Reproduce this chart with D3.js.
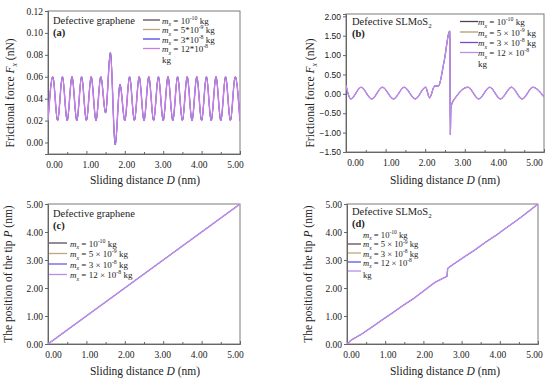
<!DOCTYPE html>
<html><head><meta charset="utf-8">
<script src="https://cdn.jsdelivr.net/npm/d3@7/dist/d3.min.js"></script>
<style>
body{margin:0;background:#fff;}
text{font-family:"Liberation Serif","DejaVu Serif",serif;fill:#222;}
</style></head>
<body><svg id="c" width="550" height="380"></svg>
<script>
// ---------- data ----------
const xTicks = [0, 1, 2, 3, 4, 5];
const xTickLabels = ["0.00","1.00","2.00","3.00","4.00","5.00"];
const yTicksA = [0, 0.02, 0.04, 0.06, 0.08, 0.10, 0.12];
const yTicksB = [-1.5, -1.0, -0.5, 0, 0.5, 1.0, 1.5, 2.0];
const yTicksCD = [0, 1, 2, 3, 4, 5];

// (a) frictional force, defective graphene (peaks/troughs read every 0.125 nm)
const dA = [0,0.125,0.25,0.375,0.5,0.625,0.75,0.875,1,1.125,1.25,1.375,1.5,1.625,1.75,1.875,2,2.125,2.25,2.375,2.5,2.625,2.75,2.875,3,3.125,3.25,3.375,3.5,3.625,3.75,3.875,4,4.125,4.25,4.375,4.5,4.625,4.75,4.875,5];
const fA = [0.02,0.06,0.02,0.06,0.02,0.06,0.02,0.06,0.02,0.06,0.02,0.06,0.027,0.082,-0.002,0.053,0.02,0.06,0.02,0.06,0.02,0.06,0.02,0.06,0.02,0.06,0.02,0.06,0.02,0.06,0.02,0.06,0.02,0.06,0.02,0.06,0.02,0.06,0.02,0.06,0.02];

// (b) frictional force, defective SLMoS2
const dB  = [0,0.12,0.38,0.65,0.92,1.2,1.47,1.75,2.01,2.11,2.24,2.33,2.48,2.62,2.635,2.65,2.8,3.08,3.35,3.63,3.9,4.18,4.45,4.72,5.0];
const fB  = [0.22,-0.13,0.17,-0.13,0.17,-0.13,0.17,-0.13,0.17,-0.1,0.2,0.2,0.85,1.62,-1.05,-0.32,-0.05,0.17,-0.13,0.17,-0.13,0.17,-0.13,0.17,-0.08];
const fB3 = [0.22,-0.13,0.17,-0.13,0.17,-0.13,0.17,-0.13,0.17,-0.1,0.2,0.2,0.85,1.62,-0.62,-0.35,-0.05,0.17,-0.13,0.17,-0.13,0.17,-0.13,0.17,-0.08];

// (c) tip position, defective graphene
const dC = [0, 5];
const pC = [0, 5];

// (d) tip position, defective SLMoS2
const dD = [0,0.12,0.38,0.65,0.92,1.2,1.47,1.75,2.01,2.3,2.62,2.635,2.66,2.8,3.08,3.35,3.63,3.9,4.18,4.45,4.72,5.0];
const pD = [0,0.15,0.35,0.6,0.86,1.12,1.38,1.63,1.9,2.2,2.42,2.7,2.73,2.86,3.12,3.36,3.64,3.88,4.16,4.42,4.7,5.0];

const massLabelsA = [["10","-10"],["5*10","-9"],["3*10","-8"],["12*10","-8"]];
const massLabelsB = [["10","-10"],["5 × 10","-9"],["3 × 10","-8"],["12 × 10","-8"]];

const colorsA = ["#5e4b5c","#bfa67c","#4747e6","#c67fe8"];
const colorsB = ["#4e4250","#b39c6c","#7c44d6","#b98de9"];
const colorsC = ["#5e4b5c","#bfa67c","#6b5ce0","#b98de9"];
const colorsD = ["#5e4b5c","#bfa67c","#6052e2","#b98de9"];

// ---------- helpers ----------
const svg = d3.select("#c");

function rich(sel, x, y, parts, size, anchor, rotate){
  const t = sel.append("text").attr("x",x).attr("y",y).style("font-size",size+"px");
  if(anchor) t.attr("text-anchor",anchor);
  if(rotate) t.attr("transform",`rotate(${rotate},${x},${y})`);
  let off = 0;
  parts.forEach(p=>{
    const ts = t.append("tspan").text(p.t);
    const target = p.s==="sub" ? size*0.3 : p.s==="sup" ? -size*0.4 : 0;
    if(target!==off){ ts.attr("dy", target-off); off = target; }
    if(p.s) ts.style("font-size",(size*0.65)+"px");
    if(p.i) ts.style("font-style","italic");
    if(p.b) ts.style("font-weight","bold");
  });
  return t;
}

function massParts(lbl, tail){
  const p = [{t:"m",i:1},{t:"x",i:1,s:"sub"},{t:" = "+lbl[0]},{t:lbl[1],s:"sup"}];
  if(tail) p.push({t:" kg"});
  return p;
}

function panel(cfg){
  const g = svg.append("g");
  const x = d3.scaleLinear().domain(cfg.xDom).range([cfg.x0,cfg.x1]);
  const y = d3.scaleLinear().domain(cfg.yDom).range([cfg.yB,cfg.yT]);

  // frame
  g.append("rect").attr("x",cfg.x0).attr("y",cfg.yT)
    .attr("width",cfg.x1-cfg.x0).attr("height",cfg.yB-cfg.yT)
    .attr("fill","none").attr("stroke","#7a7a7a").attr("stroke-width",1);

  // x axis
  const xa = g.append("g").attr("transform",`translate(0,${cfg.yB})`)
    .call(d3.axisBottom(x).tickValues(xTicks).tickFormat((d,i)=>xTickLabels[i]).tickSize(-3).tickPadding(7));
  xa.select(".domain").attr("stroke","#666");
  xa.selectAll(".tick line").attr("stroke","#666");
  xa.selectAll("text").style("font-size","9.5px").attr("fill","#333")
    .attr("x",(d,i)=>cfg.lblInset[0]+(cfg.lblInset[1]-cfg.lblInset[0])*i/5)
    .style("font-family",'"Liberation Serif",serif');
  const xm = g.append("g").attr("transform",`translate(0,${cfg.yB})`)
    .call(d3.axisBottom(x).tickValues([0.5,1.5,2.5,3.5,4.5]).tickFormat("").tickSize(-2));
  xm.select(".domain").remove();
  xm.selectAll(".tick line").attr("stroke","#666");

  // y axis
  const ya = g.append("g").attr("transform",`translate(${cfg.x0},0)`)
    .call(d3.axisLeft(y).tickValues(cfg.yTicks).tickFormat(d3.format(".2f")).tickSize(3).tickPadding(2));
  ya.select(".domain").attr("stroke","#666");
  ya.selectAll(".tick line").attr("stroke","#666");
  ya.selectAll("text").style("font-size","9.5px").attr("fill","#333")
    .style("font-family",cfg.ySans?'"Liberation Sans",sans-serif':'"Liberation Serif",serif');
  if(cfg.ySans) ya.selectAll("text").style("font-size","8.5px");

  // lines
  const clipId = "clip"+cfg.id;
  g.append("clipPath").attr("id",clipId).append("rect")
    .attr("x",cfg.x0).attr("y",cfg.yT).attr("width",cfg.x1-cfg.x0).attr("height",cfg.yB-cfg.yT);
  const line = d3.line().x(d=>x(d[0])).y(d=>y(d[1])).curve(cfg.curve);
  cfg.series.forEach((s,i)=>{
    const pts = s.map((v,j)=>[cfg.xs[j],v]);
    g.append("path").attr("d",line(pts)).attr("fill","none")
      .attr("stroke",cfg.colors[i]).attr("stroke-width",i===3?1.5:0.8).attr("clip-path",`url(#${clipId})`);
  });

  // titles
  rich(g, cfg.xt[0], cfg.xt[1], [{t:"Sliding distance "},{t:"D",i:1},{t:" (nm)"}], 11.5, "middle");
  rich(g, cfg.yt[0], cfg.yt[1], cfg.yTitle, 11.5, "middle", -90);

  // header
  rich(g, cfg.hd[0], cfg.hd[1], [{t:cfg.header[0]},{t:cfg.header[1]||"",s:cfg.header[1]?"sub":null}], 10.5);
  rich(g, cfg.hd[0], cfg.hd[1]+11.5, [{t:"("+cfg.letter+")",b:1}], 10.5);

  // legend
  cfg.legend.forEach((row,i)=>{
    if(row.line!=null){
      g.append("line").attr("x1",cfg.lg.lx0).attr("x2",cfg.lg.lx1)
        .attr("y1",row.ly).attr("y2",row.ly)
        .attr("stroke",cfg.colors[row.line]).attr("stroke-width",1.3);
    }
    rich(g, cfg.lg.tx, row.ty, row.parts, cfg.lg.fs || 9);
  });
}

const fTitle = [{t:"Frictional force "},{t:"F",i:1},{t:"x",i:1,s:"sub"},{t:" (nN)"}];
const pTitle = [{t:"The position of the tip "},{t:"P",i:1},{t:" (nm)"}];

// (a)
panel({id:"a", x0:48, x1:240, yT:11, yB:154, xDom:[0,5], yDom:[-0.0105,0.12], yTicks:yTicksA, lblInset:[6,-5],
  xs:dA, series:[fA,fA,fA,fA], colors:colorsA, curve:d3.curveMonotoneX,
  xt:[145,184], yt:[14,93], yTitle:fTitle, hd:[53,24], header:["Defective graphene"], letter:"a",
  lg:{lx0:143, lx1:160, tx:162},
  legend:[
    {line:0, ly:20, ty:23.5, parts:massParts(massLabelsA[0],1)},
    {line:1, ly:29.5, ty:33, parts:massParts(massLabelsA[1],1)},
    {line:2, ly:39, ty:42.5, parts:massParts(massLabelsA[2],1)},
    {line:3, ly:48.5, ty:52, parts:[{t:"m",i:1},{t:"x",i:1,s:"sub"},{t:"  =   "+massLabelsA[3][0]},{t:massLabelsA[3][1],s:"sup"}]},
    {line:null, ty:63, parts:[{t:"kg"}]}
  ]});

// (b)
panel({id:"b", x0:346, x1:544, yT:14, yB:152, xDom:[0,5], yDom:[-1.5,2.06], yTicks:yTicksB, ySans:true, lblInset:[9,-10],
  xs:dB, series:[fB,fB,fB3,fB], colors:colorsB, curve:d3.curveMonotoneX,
  xt:[445,184], yt:[314,93], yTitle:fTitle, hd:[352,25], header:["Defective SLMoS","2"], letter:"b",
  lg:{lx0:460, lx1:478, tx:478},
  legend:[
    {line:0, ly:21.5, ty:25, parts:massParts(massLabelsB[0],1)},
    {line:1, ly:32, ty:35.5, parts:massParts(massLabelsB[1],1)},
    {line:2, ly:42.5, ty:46, parts:massParts(massLabelsB[2],1)},
    {line:3, ly:52.5, ty:56, parts:[{t:"m",i:1},{t:"x",i:1,s:"sub"},{t:" = "+massLabelsB[3][0]},{t:massLabelsB[3][1],s:"sup"}]},
    {line:null, ty:66.5, parts:[{t:"kg"}]}
  ]});

// (c)
panel({id:"c", x0:48, x1:240, yT:204, yB:344, xDom:[0,5], yDom:[0,5], yTicks:yTicksCD, lblInset:[5,-5],
  xs:dC, series:[pC,pC,pC,pC], colors:colorsC, curve:d3.curveLinear,
  xt:[145,375], yt:[12,274], yTitle:pTitle, hd:[53,217], header:["Defective graphene"], letter:"c",
  lg:{lx0:49, lx1:67, tx:70},
  legend:[
    {line:0, ly:243, ty:246.5, parts:massParts(massLabelsB[0],1)},
    {line:1, ly:253.5, ty:257, parts:massParts(massLabelsB[1],1)},
    {line:2, ly:264, ty:267.5, parts:massParts(massLabelsB[2],1)},
    {line:3, ly:274.5, ty:278, parts:massParts(massLabelsB[3],1)}
  ]});

// (d)
panel({id:"d", x0:347, x1:538, yT:204, yB:344, xDom:[0,5], yDom:[0,5], yTicks:yTicksCD, lblInset:[4,-4],
  xs:dD, series:[pD,pD,pD,pD], colors:colorsD, curve:d3.curveLinear,
  xt:[445,375], yt:[312,274], yTitle:pTitle, hd:[352,215], header:["Defective SLMoS","2"], letter:"d",
  lg:{lx0:348, lx1:361, tx:363, fs:8.6},
  legend:[
    {line:null, ty:237.5, parts:massParts(massLabelsB[0],1)},
    {line:0, ly:244, ty:247, parts:massParts(massLabelsB[1],1)},
    {line:1, ly:253, ty:256.5, parts:massParts(massLabelsB[2],1)},
    {line:2, ly:262, ty:265.5, parts:[{t:"m",i:1},{t:"x",i:1,s:"sub"},{t:"  =  "+massLabelsB[3][0]},{t:massLabelsB[3][1],s:"sup"}]},
    {line:3, ly:271, ty:277.5, parts:[{t:"kg"}]}
  ]});
</script></body></html>
